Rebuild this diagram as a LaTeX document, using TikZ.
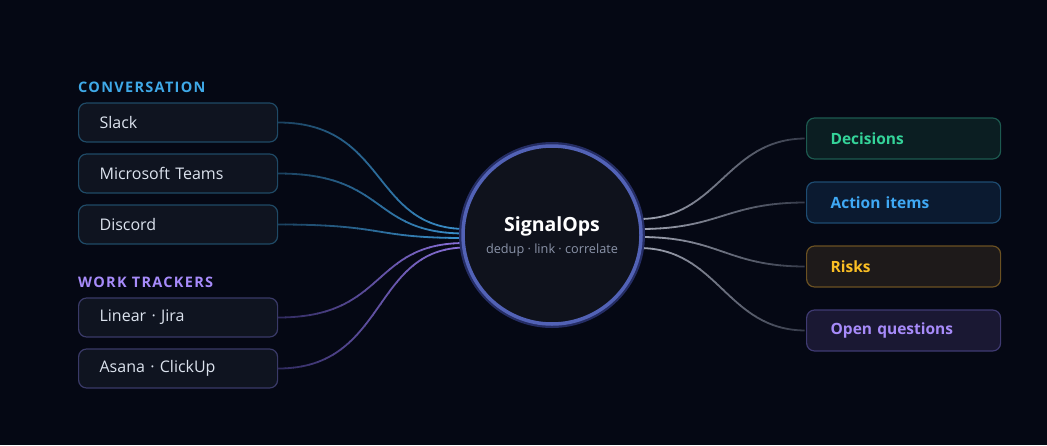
\documentclass[tikz,border=0pt]{standalone}
\usepackage{fontspec}
\setmainfont{Open Sans}
\definecolor{bg}{HTML}{050814}
\definecolor{boxfill}{HTML}{0F1420}
\definecolor{convborder}{HTML}{1F4A66}
\definecolor{workborder}{HTML}{3A3A68}
\definecolor{boxtext}{HTML}{DCE3EE}
\definecolor{convlabel}{HTML}{3FA9E8}
\definecolor{worklabel}{HTML}{A78BFA}
\definecolor{convdark}{HTML}{1B4260}
\definecolor{convbright}{HTML}{3A90CC}
\definecolor{workdark}{HTML}{302B60}
\definecolor{workbright}{HTML}{8C72DC}
\definecolor{outdark}{HTML}{383D4C}
\definecolor{outbright}{HTML}{A2A6B4}
\definecolor{hubfill}{HTML}{0F121C}
\definecolor{hubring}{HTML}{5262B6}
\definecolor{hubglow}{HTML}{252D64}
\definecolor{hubsub}{HTML}{8A93A8}
\definecolor{decfill}{HTML}{0B1E22}\definecolor{decborder}{HTML}{1D5A50}\definecolor{dectext}{HTML}{34D399}
\definecolor{actfill}{HTML}{0B1A30}\definecolor{actborder}{HTML}{1E4C72}\definecolor{acttext}{HTML}{3FA9F5}
\definecolor{riskfill}{HTML}{1E1A1A}\definecolor{riskborder}{HTML}{6B5122}\definecolor{risktext}{HTML}{FBBF24}
\definecolor{qfill}{HTML}{1A1833}\definecolor{qborder}{HTML}{3F3A72}\definecolor{qtext}{HTML}{A78BFA}
\tikzset{
  srcbox/.style={draw=#1, line width=1.2pt, fill=boxfill, rounded corners=8pt,
    minimum height=39pt, text width=157pt, inner xsep=21pt, align=left,
    text=boxtext, font=\fontsize{16}{19}\selectfont, anchor=west},
  outbox/.style 2 args={draw=#1, fill=#2, line width=1.2pt, rounded corners=8pt,
    minimum height=41pt, text width=146pt, inner xsep=24pt, align=left,
    font=\fontsize{15.5}{19}\selectfont\bfseries, anchor=west},
  grouplabel/.style={anchor=west, inner sep=0pt, font=\fontsize{14.5}{16}\selectfont\bfseries\addfontfeatures{LetterSpace=9}},
  link/.style={line width=1.8pt},
}
\begin{document}
\begin{tikzpicture}[x=1pt,y=-1pt]
\useasboundingbox (0,0) rectangle (1047,445);
\fill[bg] (0,0) rectangle (1047,445);

% group labels
\node[grouplabel, text=convlabel] (lconv) at (78,87) {CONVERSATION};
\node[grouplabel, text=worklabel] (lwork) at (78,282) {WORK TRACKERS};

% source boxes
\node[srcbox=convborder] (slack) at (78,122.5) {Slack};
\node[srcbox=convborder] (teams) at (78,173.5) {Microsoft Teams};
\node[srcbox=convborder] (discord) at (78,224.5) {Discord};
\node[srcbox=workborder] (linear) at (78,317.5) {Linear · Jira};
\node[srcbox=workborder] (asana) at (78,368.5) {Asana · ClickUp};

% output boxes
\node[outbox={decborder}{decfill}, text=dectext] (dec) at (806,138.5) {Decisions};
\node[outbox={actborder}{actfill}, text=acttext] (act) at (806,202.5) {Action items};
\node[outbox={riskborder}{riskfill}, text=risktext] (risk) at (806,266.5) {Risks};
\node[outbox={qborder}{qfill}, text=qtext] (oq) at (806,330.5) {Open questions};

% endpoints on hub
\coordinate (in1) at (466,229);
\coordinate (in2) at (465,233.5);
\coordinate (in3) at (465,238);
\coordinate (in4) at (465,243);
\coordinate (in5) at (466,247.5);
\coordinate (out1) at (639,219);
\coordinate (out2) at (640,229);
\coordinate (out3) at (640,237);
\coordinate (out4) at (639,248);

% left connectors (horizontal gradient by clipped strips)
\foreach \s/\e/\cd/\cb in {slack/in1/convdark/convbright, teams/in2/convdark/convbright, discord/in3/convdark/convbright, linear/in4/workdark/workbright, asana/in5/workdark/workbright}{
  \foreach \i in {0,...,23}{
    \pgfmathsetmacro{\xa}{277+\i*8}
    \pgfmathsetmacro{\xb}{\xa+8.5}
    \pgfmathtruncatemacro{\pc}{100-\i*100/23}
    \begin{scope}
      \clip (\xa,0) rectangle (\xb,445);
      \draw[link, draw=\cd!\pc!\cb] (\s.east) .. controls +(110,0) and +(-95,0) .. (\e);
    \end{scope}
  }
}
% right connectors
\foreach \s/\e in {out1/dec, out2/act, out3/risk, out4/oq}{
  \foreach \i in {0,...,20}{
    \pgfmathsetmacro{\xa}{636+\i*8}
    \pgfmathsetmacro{\xb}{\xa+8.5}
    \pgfmathtruncatemacro{\pc}{\i*100/20}
    \begin{scope}
      \clip (\xa,0) rectangle (\xb,445);
      \draw[link, draw=outdark!\pc!outbright] (\s) .. controls +(80,0) and +(-80,0) .. (\e.west);
    \end{scope}
  }
}

% hub
\fill[hubglow] (552,235) circle (93);
\node[circle, fill=hubfill, draw=hubring, line width=3.5pt, minimum size=178pt, inner sep=0pt] (hub) at (552,235) {};
\node[text=white, font=\fontsize{19.5}{22}\selectfont\bfseries] (hubtitle) at (552,226) {SignalOps};
\node[text=hubsub, font=\fontsize{12.7}{15}\selectfont] (hubsubt) at (552,250) {dedup · link · correlate};
\end{tikzpicture}
\end{document}
